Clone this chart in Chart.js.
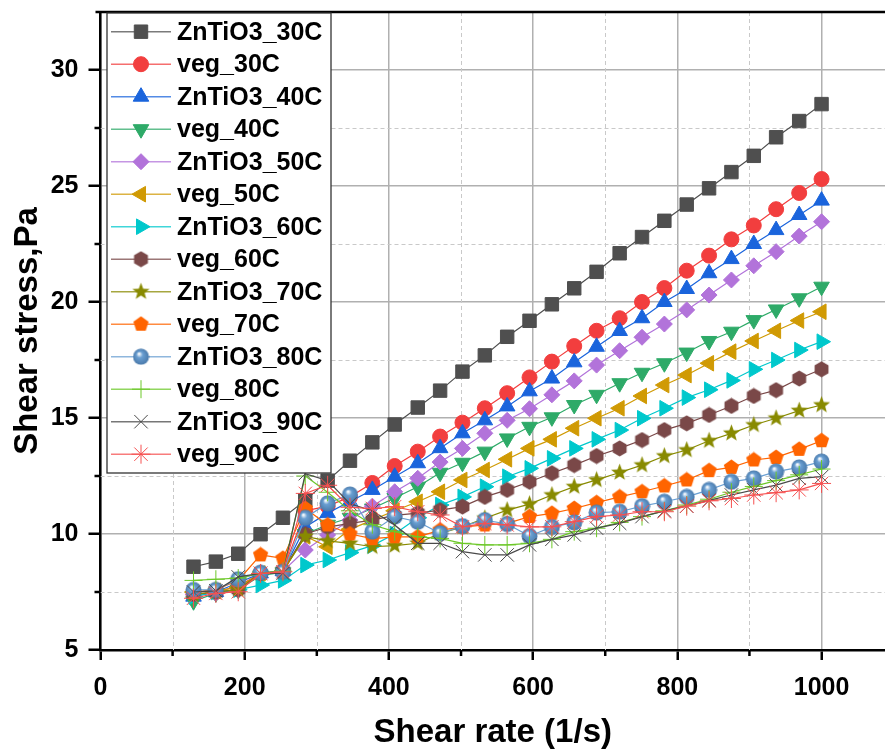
<!DOCTYPE html>
<html>
<head>
<meta charset="utf-8">
<script src="https://cdn.jsdelivr.net/npm/chart.js@4.4.1/dist/chart.umd.min.js"></script>
<style>
  html, body { margin: 0; padding: 0; background: #fff; }
  #wrap { width: 885px; height: 754px; }
</style>
</head>
<body>
<div id="wrap"><canvas id="flowChart" width="885" height="754"></canvas></div>
<script>
// shear rate steps (1/s)
const shearRate = [129, 160, 191, 222, 253, 284, 315, 346, 377, 408, 440, 471, 502, 533, 564,
  595, 626, 657, 688, 720, 751, 782, 813, 844, 875, 906, 937, 969, 1000];

// shear stress (Pa) per sample / temperature
const znTiO3_30C = [8.59, 8.81, 9.15, 9.99, 10.7, 11.45, 12.3, 13.16, 13.95, 14.72, 15.45, 16.18, 17.0, 17.7, 18.5,
  19.19, 19.9, 20.59, 21.3, 22.1, 22.8, 23.5, 24.2, 24.9, 25.6, 26.3, 27.1, 27.8, 28.53];
const veg_30C = [7.4, 7.5, 7.75, 8.3, 8.4, 11.0, 11.2, 11.6, 12.2, 12.93, 13.55, 14.2, 14.8, 15.42, 16.07,
  16.75, 17.43, 18.1, 18.76, 19.3, 20.0, 20.6, 21.35, 22.0, 22.7, 23.3, 24.0, 24.7, 25.3];
const znTiO3_40C = [7.3, 7.5, 7.9, 8.3, 8.4, 10.3, 10.9, 11.4, 11.9, 12.47, 13.05, 13.7, 14.34, 14.9, 15.5,
  16.15, 16.7, 17.4, 18.07, 18.75, 19.3, 20.0, 20.56, 21.24, 21.85, 22.5, 23.1, 23.75, 24.37];
const veg_40C = [7.1, 7.45, 7.6, 8.2, 8.35, 10.0, 10.4, 10.7, 11.1, 11.55, 12.04, 12.64, 13.07, 13.55, 14.12,
  14.62, 15.03, 15.56, 16.0, 16.5, 16.95, 17.36, 17.82, 18.32, 18.72, 19.22, 19.68, 20.16, 20.66];
const znTiO3_50C = [7.4, 7.45, 7.6, 8.3, 8.4, 9.31, 9.96, 10.6, 11.2, 11.82, 12.4, 13.1, 13.69, 14.34, 14.9,
  15.4, 16.0, 16.6, 17.28, 17.9, 18.48, 19.05, 19.66, 20.3, 20.95, 21.56, 22.17, 22.84, 23.46];
const veg_50C = [7.5, 7.55, 7.7, 8.3, 8.4, 9.9, 9.45, 10.2, 10.6, 11.0, 11.39, 11.82, 12.33, 12.76, 13.22,
  13.69, 14.08, 14.56, 14.99, 15.42, 15.95, 16.42, 16.85, 17.36, 17.86, 18.32, 18.76, 19.2, 19.58];
const znTiO3_60C = [7.3, 7.5, 7.6, 7.8, 8.0, 8.66, 8.88, 9.2, 9.5, 10.0, 10.7, 11.25, 11.6, 12.04, 12.47,
  12.83, 13.26, 13.69, 14.08, 14.48, 14.99, 15.42, 15.88, 16.22, 16.62, 17.1, 17.5, 17.93, 18.29];
const veg_60C = [7.4, 7.5, 7.6, 8.3, 8.4, 10.0, 10.3, 10.46, 10.6, 10.8, 10.9, 11.03, 11.18, 11.6, 11.9,
  12.25, 12.62, 12.97, 13.36, 13.69, 14.05, 14.48, 14.77, 15.13, 15.52, 15.95, 16.2, 16.7, 17.1];
const znTiO3_70C = [7.4, 7.5, 7.6, 8.3, 8.4, 9.9, 9.7, 9.6, 9.45, 9.5, 9.6, 10.03, 10.31, 10.68, 11.03,
  11.29, 11.68, 12.04, 12.33, 12.65, 12.97, 13.36, 13.62, 14.02, 14.34, 14.7, 14.99, 15.32, 15.56];
const veg_70C = [7.5, 7.6, 8.0, 9.1, 8.95, 11.1, 10.39, 10.0, 9.8, 9.88, 9.88, 10.17, 10.3, 10.39, 10.46,
  10.75, 10.89, 11.1, 11.35, 11.6, 11.82, 12.07, 12.33, 12.73, 12.87, 13.19, 13.3, 13.65, 14.02];
const znTiO3_80C = [7.59, 7.59, 8.05, 8.33, 8.37, 10.7, 11.32, 11.7, 10.1, 10.75, 10.53, 10.03, 10.34, 10.6, 10.43,
  9.91, 10.3, 10.5, 10.92, 10.96, 11.2, 11.39, 11.6, 11.9, 12.25, 12.4, 12.69, 12.87, 13.12];
const veg_80C = [8.0, 8.05, 8.1, 8.3, 8.4, 12.5, 11.8, 11.0, 10.4, 10.1, 9.88, 9.81, 9.6, 9.53, 9.53,
  9.6, 9.77, 10.1, 10.25, 10.5, 10.75, 11.0, 11.25, 11.5, 11.8, 12.05, 12.3, 12.55, 12.8];
const znTiO3_90C = [7.5, 7.55, 8.15, 8.3, 8.3, 12.6, 12.3, 11.3, 11.0, 10.39, 9.6, 9.6, 9.24, 9.1, 9.1,
  9.53, 9.77, 9.96, 10.25, 10.46, 10.75, 11.0, 11.2, 11.45, 11.68, 11.9, 12.11, 12.4, 12.47];
const veg_90C = [7.23, 7.44, 7.51, 8.3, 8.37, 11.75, 12.1, 11.15, 11.1, 11.18, 10.96, 10.82, 10.31, 10.46, 10.39,
  10.31, 10.31, 10.53, 10.75, 10.82, 10.96, 10.96, 11.2, 11.43, 11.53, 11.68, 11.78, 11.9, 12.18];

const seriesNames = ["ZnTiO3_30C", "veg_30C", "ZnTiO3_40C", "veg_40C", "ZnTiO3_50C", "veg_50C",
  "ZnTiO3_60C", "veg_60C", "ZnTiO3_70C", "veg_70C", "ZnTiO3_80C", "veg_80C", "ZnTiO3_90C", "veg_90C"];
const seriesValues = [znTiO3_30C, veg_30C, znTiO3_40C, veg_40C, znTiO3_50C, veg_50C,
  znTiO3_60C, veg_60C, znTiO3_70C, veg_70C, znTiO3_80C, veg_80C, znTiO3_90C, veg_90C];
const seriesColors = ["#4f4f4f", "#f23e3e", "#1a64dc", "#2eaa68", "#b273da", "#d09a04",
  "#00c8cc", "#7a4848", "#888a00", "#ff6400", "#6a9fd2", "#6cc828", "#4a4a4a", "#f65050"];

const xMinorTicks = [100, 300, 500, 700, 900];
const yMinorTicks = [7.5, 12.5, 17.5, 22.5, 27.5];

const FONT = "'Liberation Sans', Arial, Helvetica, sans-serif";

// little canvas markers for the shapes Chart.js doesn't ship
function polygonMarker(color, sides, size, innerRatio) {
  const c = document.createElement("canvas");
  c.width = c.height = size;
  const g = c.getContext("2d");
  const cx = size / 2, cy = size / 2, r = size / 2 - 0.5;
  const n = innerRatio ? sides * 2 : sides;
  g.beginPath();
  for (let k = 0; k < n; k++) {
    const a = -Math.PI / 2 + (k * 2 * Math.PI) / n;
    const rr = innerRatio && k % 2 ? r * innerRatio : r;
    const px = cx + rr * Math.cos(a), py = cy + rr * Math.sin(a);
    k ? g.lineTo(px, py) : g.moveTo(px, py);
  }
  g.closePath();
  g.fillStyle = color;
  g.fill();
  return c;
}

function sphereMarker(color, size) {
  const c = document.createElement("canvas");
  c.width = c.height = size;
  const g = c.getContext("2d");
  const r = size / 2 - 0.5;
  const grad = g.createRadialGradient(size * 0.38, size * 0.32, 0.5, size / 2, size / 2, r);
  grad.addColorStop(0, "#ffffff");
  grad.addColorStop(0.35, color);
  grad.addColorStop(1, "#4a7aab");
  g.beginPath();
  g.arc(size / 2, size / 2, r, 0, Math.PI * 2);
  g.fillStyle = grad;
  g.fill();
  return c;
}

const markers = [
  { style: "rect", r: 9.5 },
  { style: "circle", r: 7.5 },
  { style: "triangle", r: 9 },
  { style: "triangle", r: 9, rot: 180 },
  { style: "rectRot", r: 8 },
  { style: "triangle", r: 9, rot: 270 },
  { style: "triangle", r: 9, rot: 90 },
  { style: polygonMarker(seriesColors[7], 6, 17), r: 8 },
  { style: polygonMarker(seriesColors[8], 5, 19, 0.42), r: 9 },
  { style: polygonMarker(seriesColors[9], 5, 17), r: 8 },
  { style: sphereMarker(seriesColors[10], 17), r: 8 },
  { style: "cross", r: 9, bw: 1 },
  { style: "crossRot", r: 9.5, bw: 1 },
  { style: "star", r: 9.5, bw: 1 },
];

const datasets = seriesValues.map((vals, i) => ({
  label: seriesNames[i],
  data: shearRate.map((x, k) => ({ x, y: vals[k] })),
  borderColor: seriesColors[i],
  backgroundColor: seriesColors[i],
  borderWidth: 1.2,
  pointStyle: markers[i].style,
  pointRotation: markers[i].rot || 0,
  pointRadius: markers[i].r,
  pointBorderWidth: markers[i].bw || 1,
  pointBorderColor: seriesColors[i],
  pointBackgroundColor: seriesColors[i],
  tension: 0,
  order: seriesValues.length - i,
}));

// dashed minor grid, minor ticks, top frame and the boxed legend
const framePlugin = {
  id: "framePlugin",
  beforeDatasetsDraw(chart) {
    const { ctx, chartArea: a, scales } = chart;
    const xs = scales.x, ys = scales.y;
    ctx.save();
    ctx.strokeStyle = "#c9c9c9";
    ctx.lineWidth = 1;
    ctx.setLineDash([4, 3]);
    ctx.beginPath();
    xMinorTicks.forEach((v) => {
      const px = Math.round(xs.getPixelForValue(v)) + 0.5;
      ctx.moveTo(px, a.top); ctx.lineTo(px, a.bottom);
    });
    yMinorTicks.forEach((v) => {
      const py = Math.round(ys.getPixelForValue(v)) + 0.5;
      ctx.moveTo(a.left, py); ctx.lineTo(a.right, py);
    });
    ctx.stroke();
    ctx.setLineDash([]);
    ctx.strokeStyle = "#000";
    ctx.lineWidth = 2.5;
    ctx.beginPath();
    xMinorTicks.forEach((v) => {
      const px = xs.getPixelForValue(v);
      ctx.moveTo(px, a.bottom); ctx.lineTo(px, a.bottom + 6);
    });
    yMinorTicks.forEach((v) => {
      const py = ys.getPixelForValue(v);
      ctx.moveTo(a.left - 6, py); ctx.lineTo(a.left, py);
    });
    ctx.stroke();
    ctx.restore();
  },
  afterDraw(chart) {
    const { ctx, chartArea: a } = chart;
    ctx.save();
    ctx.strokeStyle = "#000";
    ctx.lineWidth = 2.5;
    ctx.beginPath();
    ctx.moveTo(a.left - 5, a.top);
    ctx.lineTo(a.right, a.top);
    ctx.stroke();

    // legend box
    const bx = 107, by = 13, bw = 224, bh = 460;
    ctx.fillStyle = "#fff";
    ctx.fillRect(bx, by, bw, bh);
    ctx.strokeStyle = "#333";
    ctx.lineWidth = 1.3;
    ctx.strokeRect(bx, by, bw, bh);

    ctx.font = "bold 25px " + FONT;
    ctx.textBaseline = "middle";
    seriesNames.forEach((name, i) => {
      const y = 31.7 + i * 32.5;
      ctx.globalAlpha = 0.75;
      ctx.strokeStyle = seriesColors[i];
      ctx.lineWidth = 1.4;
      ctx.beginPath();
      ctx.moveTo(111, y); ctx.lineTo(171, y);
      ctx.stroke();
      ctx.globalAlpha = 1;
      ctx.fillStyle = seriesColors[i];
      ctx.strokeStyle = seriesColors[i];
      ctx.lineWidth = markers[i].bw || 1;
      Chart.helpers.drawPoint(ctx, {
        pointStyle: markers[i].style,
        rotation: markers[i].rot || 0,
        radius: markers[i].r,
        borderWidth: markers[i].bw || 1,
      }, 141, y);
      ctx.fillStyle = "#000";
      ctx.fillText(name, 177, y + 1);
    });
    ctx.restore();
  },
};

const tickFont = { family: FONT, size: 25, weight: "bold" };

// fixed axis box sizes, no extra room reserved for edge labels
function fitX(scale) {
  scale.height = 104;
  scale.paddingLeft = 0;
  scale.paddingRight = 0;
}
function fitY(scale) {
  scale.width = 100.5;
  scale.paddingTop = 0;
  scale.paddingBottom = 0;
}

new Chart(document.getElementById("flowChart").getContext("2d"), {
  type: "line",
  data: { datasets },
  options: {
    responsive: false,
    animation: false,
    devicePixelRatio: 1,
    layout: { autoPadding: false, padding: { top: 12, right: 0, left: 0, bottom: 0 } },
    plugins: { legend: { display: false }, tooltip: { enabled: false } },
    scales: {
      x: {
        type: "linear",
        min: 0,
        max: 1088,
        afterFit: fitX,
        ticks: {
          stepSize: 200, includeBounds: false, color: "#000", font: tickFont, padding: 13, maxRotation: 0,
          callback: (v) => String(v),
        },
        grid: { color: "#b0b0b0", lineWidth: 1.5, tickLength: 10, tickColor: "#000", tickWidth: 2.5 },
        border: { display: true, color: "#000", width: 2.5 },
        title: {
          display: true,
          text: "Shear rate (1/s)",
          color: "#000",
          font: { family: FONT, size: 33, weight: "bold" },
          padding: { top: 0, bottom: 1 },
        },
      },
      y: {
        type: "linear",
        min: 5,
        max: 32.5,
        afterFit: fitY,
        ticks: { stepSize: 5, includeBounds: false, color: "#000", font: tickFont, padding: 10 },
        grid: { color: "#b0b0b0", lineWidth: 1.5, tickLength: 12, tickColor: "#000", tickWidth: 2.5 },
        border: { display: true, color: "#000", width: 2.5 },
        title: {
          display: true,
          text: "Shear stress,Pa",
          color: "#000",
          font: { family: FONT, size: 33, weight: "bold" },
          padding: { top: 8, bottom: 0 },
        },
      },
    },
  },
  plugins: [framePlugin],
});
</script>
</body>
</html>
